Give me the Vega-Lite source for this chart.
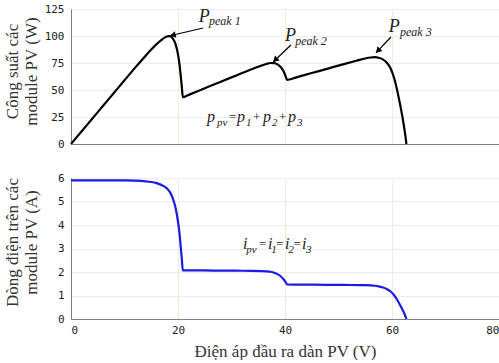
{
  "$schema": "https://vega.github.io/schema/vega-lite/v6.json",
  "padding": {"left": 2, "top": 2, "right": 0, "bottom": 0},
  "spacing": 21,
  "background": "white",
  "datasets": {
    "pv": [
      {"v": 0, "i": 5.9, "p": 0},
      {"v": 2, "i": 5.9, "p": 11.8},
      {"v": 4, "i": 5.9, "p": 23.6},
      {"v": 6, "i": 5.9, "p": 35.4},
      {"v": 8, "i": 5.9, "p": 47.2},
      {"v": 10, "i": 5.9, "p": 59},
      {"v": 12, "i": 5.89, "p": 70.7},
      {"v": 13, "i": 5.88, "p": 76.4},
      {"v": 14, "i": 5.86, "p": 82.0},
      {"v": 15, "i": 5.83, "p": 87.5},
      {"v": 16, "i": 5.78, "p": 92.5},
      {"v": 16.5, "i": 5.74, "p": 94.7},
      {"v": 17, "i": 5.69, "p": 96.7},
      {"v": 17.5, "i": 5.63, "p": 98.5},
      {"v": 18, "i": 5.54, "p": 99.7},
      {"v": 18.5, "i": 5.4, "p": 99.9},
      {"v": 19, "i": 5.15, "p": 97.9},
      {"v": 19.5, "i": 4.78, "p": 93.2},
      {"v": 20, "i": 4.15, "p": 83.0},
      {"v": 20.3, "i": 3.6, "p": 73.1},
      {"v": 20.5, "i": 3.1, "p": 63.6},
      {"v": 20.7, "i": 2.6, "p": 53.8},
      {"v": 20.9, "i": 2.07, "p": 43.3},
      {"v": 22, "i": 2.07, "p": 45.5},
      {"v": 25, "i": 2.065, "p": 51.6},
      {"v": 28, "i": 2.06, "p": 57.7},
      {"v": 31, "i": 2.055, "p": 63.7},
      {"v": 34, "i": 2.05, "p": 69.7},
      {"v": 35.5, "i": 2.04, "p": 72.4},
      {"v": 36.5, "i": 2.03, "p": 74.1},
      {"v": 37.3, "i": 2.01, "p": 75.0},
      {"v": 38, "i": 1.97, "p": 74.9},
      {"v": 38.6, "i": 1.91, "p": 73.7},
      {"v": 39.2, "i": 1.82, "p": 71.3},
      {"v": 39.7, "i": 1.7, "p": 67.5},
      {"v": 40.1, "i": 1.57, "p": 63.0},
      {"v": 40.4, "i": 1.47, "p": 59.4},
      {"v": 42, "i": 1.465, "p": 61.5},
      {"v": 45, "i": 1.46, "p": 65.7},
      {"v": 48, "i": 1.455, "p": 69.8},
      {"v": 51, "i": 1.45, "p": 74.0},
      {"v": 53.5, "i": 1.445, "p": 77.3},
      {"v": 55, "i": 1.44, "p": 79.2},
      {"v": 56, "i": 1.43, "p": 80.1},
      {"v": 56.8, "i": 1.415, "p": 80.4},
      {"v": 57.5, "i": 1.39, "p": 79.9},
      {"v": 58.2, "i": 1.35, "p": 78.6},
      {"v": 59, "i": 1.28, "p": 75.5},
      {"v": 59.7, "i": 1.18, "p": 70.4},
      {"v": 60.3, "i": 1.04, "p": 62.7},
      {"v": 60.9, "i": 0.84, "p": 51.2},
      {"v": 61.5, "i": 0.6, "p": 36.9},
      {"v": 62.0, "i": 0.38, "p": 23.6},
      {"v": 62.4, "i": 0.18, "p": 11.2},
      {"v": 62.7, "i": 0, "p": 0}
    ],
    "arrows": [
      {"v": 24.7, "p": 107.4, "v2": 18.5, "p2": 100.2, "hv": 19.2, "hp": 101.0, "dir": 256},
      {"v": 41.1, "p": 91.7, "v2": 37.8, "p2": 75.9, "hv": 38.3, "hp": 78.4, "dir": 227},
      {"v": 59.8, "p": 99.1, "v2": 57.0, "p2": 84.3, "hv": 57.5, "hp": 87.0, "dir": 223}
    ],
    "bigP": [
      {"v": 23.9, "p": 112.9, "t": "P"},
      {"v": 40.0, "p": 95.4, "t": "P"},
      {"v": 59.4, "p": 103.7, "t": "P"}
    ],
    "subP": [
      {"v": 25.8, "p": 110.2, "t": "peak 1"},
      {"v": 41.9, "p": 91.7, "t": "peak 2"},
      {"v": 61.5, "p": 100.0, "t": "peak 3"}
    ],
    "fmain": [
      {"v": 25.42, "p": 20.4, "t": "p"},
      {"v": 31.03, "p": 20.4, "t": "p"},
      {"v": 35.89, "p": 20.4, "t": "p"},
      {"v": 40.56, "p": 20.4, "t": "p"}
    ],
    "fop": [
      {"v": 29.53, "p": 21.2, "t": "="},
      {"v": 34.0, "p": 21.2, "t": "+"},
      {"v": 38.9, "p": 21.2, "t": "+"}
    ],
    "fsub": [
      {"v": 27.29, "p": 16.9, "t": "pv"},
      {"v": 32.71, "p": 16.9, "t": "1"},
      {"v": 37.57, "p": 16.9, "t": "2"},
      {"v": 42.24, "p": 16.9, "t": "3"}
    ],
    "imain": [
      {"v": 32.15, "i": 2.98, "t": "i"},
      {"v": 36.82, "i": 2.98, "t": "i"},
      {"v": 40.0, "i": 2.98, "t": "i"},
      {"v": 43.18, "i": 2.98, "t": "i"}
    ],
    "iop": [
      {"v": 35.14, "i": 3.02, "t": "="},
      {"v": 38.3, "i": 3.02, "t": "="},
      {"v": 41.6, "i": 3.02, "t": "="}
    ],
    "isub": [
      {"v": 32.75, "i": 2.81, "t": "pv"},
      {"v": 37.45, "i": 2.81, "t": "1"},
      {"v": 40.65, "i": 2.81, "t": "2"},
      {"v": 43.93, "i": 2.81, "t": "3"}
    ]
  },
  "vconcat": [
    {
      "width": 428,
      "height": 135,
      "layer": [
        {
          "data": {"name": "pv"},
          "mark": {"type": "line", "color": "black", "strokeWidth": 2.2, "interpolate": "monotone"},
          "encoding": {
            "x": {"field": "v", "type": "quantitative", "scale": {"domain": [0, 80], "nice": false},
                  "axis": {"labels": false, "title": null, "tickCount": 5, "values": [0, 20, 40, 60, 80], "gridColor": "#efefdc", "domainColor": "#808080"}},
            "y": {"field": "p", "type": "quantitative", "scale": {"domain": [0, 125], "nice": false},
                  "axis": {"values": [0, 25, 50, 75, 100, 125], "tickCount": 6, "labelOverlap": false, "title": ["Công suất các", "module PV (W)"], "titleX": -50, "titleY": 62}}
          }
        },
        {
          "data": {"name": "arrows"},
          "mark": {"type": "rule", "color": "black", "strokeWidth": 1.2},
          "encoding": {
            "x": {"field": "v", "type": "quantitative"},
            "y": {"field": "p", "type": "quantitative"},
            "x2": {"field": "v2"},
            "y2": {"field": "p2"}
          }
        },
        {
          "data": {"name": "arrows"},
          "mark": {"type": "point", "shape": "triangle", "filled": true, "color": "black", "size": 45, "opacity": 1},
          "encoding": {
            "x": {"field": "hv", "type": "quantitative"},
            "y": {"field": "hp", "type": "quantitative"},
            "angle": {"field": "dir", "type": "quantitative", "scale": null}
          }
        },
        {
          "data": {"name": "bigP"},
          "mark": {"type": "text", "font": "Liberation Serif", "fontStyle": "italic", "fontSize": 18, "align": "left", "baseline": "alphabetic", "color": "#222"},
          "encoding": {
            "x": {"field": "v", "type": "quantitative"},
            "y": {"field": "p", "type": "quantitative"},
            "text": {"field": "t"}
          }
        },
        {
          "data": {"name": "subP"},
          "mark": {"type": "text", "font": "Liberation Serif", "fontStyle": "italic", "fontSize": 12, "align": "left", "baseline": "alphabetic", "color": "#222"},
          "encoding": {
            "x": {"field": "v", "type": "quantitative"},
            "y": {"field": "p", "type": "quantitative"},
            "text": {"field": "t"}
          }
        },
        {
          "data": {"name": "fmain"},
          "mark": {"type": "text", "font": "Liberation Serif", "fontStyle": "italic", "fontSize": 16, "align": "left", "baseline": "alphabetic", "color": "#222"},
          "encoding": {
            "x": {"field": "v", "type": "quantitative"},
            "y": {"field": "p", "type": "quantitative"},
            "text": {"field": "t"}
          }
        },
        {
          "data": {"name": "fop"},
          "mark": {"type": "text", "font": "Liberation Serif", "fontSize": 13, "align": "left", "baseline": "alphabetic", "color": "#222"},
          "encoding": {
            "x": {"field": "v", "type": "quantitative"},
            "y": {"field": "p", "type": "quantitative"},
            "text": {"field": "t"}
          }
        },
        {
          "data": {"name": "fsub"},
          "mark": {"type": "text", "font": "Liberation Serif", "fontStyle": "italic", "fontSize": 11, "align": "left", "baseline": "alphabetic", "color": "#222"},
          "encoding": {
            "x": {"field": "v", "type": "quantitative"},
            "y": {"field": "p", "type": "quantitative"},
            "text": {"field": "t"}
          }
        }
      ]
    },
    {
      "width": 428,
      "height": 141,
      "layer": [
        {
          "data": {"name": "pv"},
          "mark": {"type": "line", "color": "#1a1ae6", "strokeWidth": 2.2, "interpolate": "monotone"},
          "encoding": {
            "x": {"field": "v", "type": "quantitative", "scale": {"domain": [0, 80], "nice": false},
                  "axis": {"values": [0, 20, 40, 60, 80], "tickCount": 5, "title": "Điện áp đầu ra dàn PV (V)", "labelPadding": 5, "titlePadding": 8, "gridColor": "#efefdc"}},
            "y": {"field": "i", "type": "quantitative", "scale": {"domain": [0, 6], "nice": false},
                  "axis": {"values": [0, 1, 2, 3, 4, 5, 6], "tickCount": 7, "labelOverlap": false, "title": ["Dòng điện trên các", "module PV (A)"], "titleX": -50, "titleY": 64}}
          }
        },
        {
          "data": {"name": "imain"},
          "mark": {"type": "text", "font": "Liberation Serif", "fontStyle": "italic", "fontSize": 16, "align": "left", "baseline": "alphabetic", "color": "#222"},
          "encoding": {
            "x": {"field": "v", "type": "quantitative"},
            "y": {"field": "i", "type": "quantitative"},
            "text": {"field": "t"}
          }
        },
        {
          "data": {"name": "iop"},
          "mark": {"type": "text", "font": "Liberation Serif", "fontSize": 13, "align": "left", "baseline": "alphabetic", "color": "#222"},
          "encoding": {
            "x": {"field": "v", "type": "quantitative"},
            "y": {"field": "i", "type": "quantitative"},
            "text": {"field": "t"}
          }
        },
        {
          "data": {"name": "isub"},
          "mark": {"type": "text", "font": "Liberation Serif", "fontStyle": "italic", "fontSize": 11, "align": "left", "baseline": "alphabetic", "color": "#222"},
          "encoding": {
            "x": {"field": "v", "type": "quantitative"},
            "y": {"field": "i", "type": "quantitative"},
            "text": {"field": "t"}
          }
        }
      ]
    }
  ],
  "config": {
    "view": {"stroke": "#808080"},
    "axis": {
      "labelFont": "DejaVu Sans Mono",
      "labelFontSize": 11,
      "labelColor": "#222",
      "labelOverlap": false,
      "ticks": false,
      "labelPadding": 7,
      "gridColor": "#ececec",
      "domainColor": "#808080",
      "titleFont": "Liberation Serif",
      "titleFontWeight": "normal",
      "titleFontSize": 17,
      "titleColor": "#333",
      "titleLineHeight": 19
    }
  }
}
